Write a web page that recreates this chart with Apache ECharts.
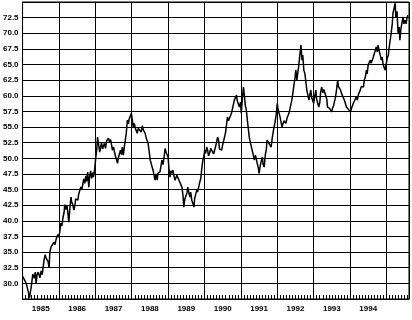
<!DOCTYPE html>
<html>
<head>
<meta charset="utf-8">
<script src="https://cdn.jsdelivr.net/npm/echarts@6/dist/echarts.min.js"></script>
<style>html,body{margin:0;padding:0;background:#fff}#c{width:412px;height:320px}</style>
</head>
<body>
<div id="c"></div>
<script>
// Decimal-year dates and price values
var dates = [
1985.00,1985.05,1985.10,1985.16,1985.19,1985.24,1985.28,1985.32,1985.35,1985.37,1985.40,1985.43,1985.48,1985.51,1985.54,1985.59,1985.62,1985.65,1985.70,1985.73,1985.75,1985.78,1985.81,1985.86,1985.89,1985.92,1985.97,
1986.00,1986.03,1986.05,1986.08,1986.11,1986.14,1986.16,1986.19,1986.22,1986.25,1986.27,1986.30,1986.33,1986.35,1986.38,1986.41,1986.44,1986.46,1986.52,1986.54,1986.60,1986.63,1986.68,1986.71,1986.74,1986.76,1986.79,1986.82,1986.84,1986.87,1986.90,1986.93,1986.95,1986.98,
1987.01,1987.04,1987.06,1987.09,1987.12,1987.14,1987.17,1987.20,1987.23,1987.25,1987.28,1987.31,1987.36,1987.39,1987.42,1987.47,1987.50,1987.55,1987.61,1987.63,1987.69,1987.72,1987.74,1987.77,1987.80,1987.85,1987.88,1987.91,1987.93,1987.99,
1988.02,1988.04,1988.07,1988.10,1988.15,1988.18,1988.23,1988.26,1988.29,1988.32,1988.37,1988.40,1988.43,1988.45,1988.51,1988.56,1988.59,1988.64,1988.67,1988.70,1988.72,1988.78,1988.83,1988.86,1988.92,1988.94,1988.97,
1989.00,1989.02,1989.05,1989.08,1989.11,1989.13,1989.16,1989.19,1989.24,1989.27,1989.32,1989.38,1989.41,1989.43,1989.46,1989.49,1989.52,1989.54,1989.57,1989.60,1989.62,1989.65,1989.68,1989.71,1989.73,1989.79,1989.81,1989.87,1989.90,1989.92,1989.95,1989.98,
1990.01,1990.03,1990.06,1990.09,1990.11,1990.14,1990.17,1990.22,1990.25,1990.31,1990.36,1990.39,1990.41,1990.47,1990.50,1990.55,1990.58,1990.63,1990.66,1990.69,1990.74,1990.77,1990.82,1990.85,1990.88,1990.90,1990.96,1990.99,
1991.01,1991.04,1991.07,1991.10,1991.12,1991.15,1991.18,1991.23,1991.26,1991.31,1991.34,1991.37,1991.40,1991.42,1991.45,1991.48,1991.50,1991.53,1991.56,1991.59,1991.61,1991.64,1991.67,1991.70,1991.72,1991.78,1991.83,1991.86,1991.91,1991.94,1991.97,
1992.00,1992.02,1992.05,1992.08,1992.13,1992.16,1992.19,1992.24,1992.27,1992.32,1992.35,1992.40,1992.43,1992.46,1992.49,1992.51,1992.54,1992.57,1992.59,1992.62,1992.65,1992.68,1992.70,1992.73,1992.76,1992.79,1992.81,1992.87,1992.89,1992.92,1992.95,
1993.00,1993.03,1993.06,1993.08,1993.14,1993.17,1993.19,1993.22,1993.25,1993.28,1993.33,1993.36,1993.38,1993.44,1993.49,1993.52,1993.55,1993.60,1993.63,1993.66,1993.68,1993.71,1993.74,1993.77,1993.82,1993.85,1993.87,1993.90,1993.96,
1994.01,1994.04,1994.09,1994.12,1994.17,1994.20,1994.23,1994.28,1994.31,1994.37,1994.39,1994.42,1994.45,1994.47,1994.50,1994.56,1994.58,1994.64,1994.67,1994.69,1994.72,1994.75,1994.77,1994.80,1994.83,1994.86,1994.88,1994.91,1994.94,1994.97,1994.99,
1995.02,1995.05,1995.07,1995.10,1995.13,1995.16,1995.18,1995.21,1995.24,1995.26,1995.29,1995.32,1995.35,1995.37,1995.40,1995.43,1995.46,1995.48,1995.51,1995.54,1995.56,1995.59
];
var values = [
31.1,30.6,30.0,28.6,27.7,29.5,31.5,30.8,31.8,29.9,31.4,31.8,30.9,32.0,31.4,33.7,34.6,34.0,33.5,32.5,35.0,35.8,35.6,36.6,36.2,37.0,37.8,
37.4,38.6,39.6,39.2,40.5,41.3,42.6,41.8,42.5,41.0,39.8,42.0,43.8,43.0,42.6,41.7,42.5,43.5,43.3,44.2,45.4,45.0,46.7,46.0,47.2,46.3,47.8,45.4,46.9,48.0,46.8,47.7,47.0,48.2,
50.0,51.5,53.4,52.2,51.0,51.3,52.5,51.5,51.8,52.4,51.6,52.8,53.2,52.6,53.0,51.3,51.8,50.4,49.2,50.0,51.3,50.6,51.8,50.5,52.0,54.0,56.1,55.5,56.3,57.2,
56.0,55.0,55.6,54.8,54.0,54.8,55.0,54.2,55.2,54.5,54.0,53.2,53.4,52.4,49.7,48.6,48.0,46.5,47.5,46.5,47.6,47.9,49.7,49.0,51.6,51.0,51.2,
50.2,48.5,47.0,48.0,47.6,48.1,47.2,46.5,47.3,47.0,46.2,45.4,44.0,42.2,43.5,44.0,44.5,45.4,44.5,43.8,44.6,43.3,42.8,42.2,43.6,45.0,44.6,46.2,46.8,48.1,49.5,50.3,
51.3,50.8,51.8,51.2,50.4,50.8,51.6,51.3,50.7,52.0,53.4,52.8,51.5,51.3,52.2,53.4,54.2,56.6,56.0,56.3,57.2,58.0,59.3,59.0,60.1,59.2,58.2,59.0,
57.2,59.5,61.4,59.8,58.5,57.7,56.0,53.4,52.5,51.3,50.5,49.7,50.5,50.0,49.2,48.4,47.6,48.8,49.6,50.2,49.0,48.6,50.5,51.5,52.9,52.3,51.8,53.2,55.0,55.8,57.0,
58.8,57.8,57.2,56.5,55.0,55.6,56.0,55.6,56.5,57.2,58.0,59.3,60.5,61.8,63.0,64.1,62.5,64.0,64.8,66.5,68.1,65.7,66.5,64.1,63.5,62.0,61.0,59.3,60.0,60.9,59.6,
58.8,60.0,60.9,59.5,58.2,59.0,60.5,61.4,60.5,61.0,60.9,59.5,58.2,58.0,57.4,58.0,58.5,59.8,61.0,62.5,61.5,61.8,60.9,60.3,60.0,59.2,58.8,58.2,57.8,
57.4,58.0,58.8,58.5,59.8,59.3,60.2,60.9,61.5,61.4,62.5,63.0,64.1,63.5,65.0,65.7,65.2,66.2,66.8,66.5,67.8,67.0,68.1,67.2,66.5,65.7,66.2,65.0,64.5,64.1,65.0,
66.0,66.5,67.5,68.8,70.0,71.5,73.2,74.0,74.8,72.6,73.5,70.0,71.0,68.9,70.8,71.8,72.6,71.5,72.1,71.5,72.3,72.9
];
var xMin = 1985, xMax = 1995.62;
var yMin = 27.5, yMax = 75, yStep = 2.5;

var seriesData = dates.map(function (d, i) { return [d, values[i]]; });

var chart = echarts.init(document.getElementById('c'), null, {renderer: 'canvas'});
var lbl = {color: '#000', fontFamily: 'Liberation Sans, Arial, sans-serif', fontWeight: 'bold', fontSize: 8};
chart.setOption({
  animation: false,
  backgroundColor: '#fff',
  grid: {left: 21, right: 1, top: 2, bottom: 21, show: true, borderColor: '#000', borderWidth: 1},
  xAxis: [{
    type: 'value', min: xMin, max: xMax, interval: 1, position: 'bottom',
    axisLine: {show: true, lineStyle: {color: '#000', width: 1}},
    axisTick: {show: true, inside: true, length: 5, lineStyle: {color: '#000'}},
    minorTick: {show: true, splitNumber: 12, length: 4, lineStyle: {color: '#000'}},
    splitLine: {show: true, lineStyle: {color: '#000', width: 1}},
    axisLabel: {show: false}
  }, {
    type: 'value', min: xMin, max: xMax, interval: 0.5, position: 'bottom',
    axisLine: {show: false}, axisTick: {show: false}, splitLine: {show: false},
    axisLabel: Object.assign({}, lbl, {margin: 6, formatter: function (v) {
      var f = v - Math.floor(v);
      return (Math.abs(f - 0.5) < 0.01 && v < 1995) ? String(Math.floor(v)) : '';
    }})
  }],
  yAxis: {
    type: 'value', min: yMin, max: yMax, interval: yStep,
    axisLine: {show: true, lineStyle: {color: '#000'}},
    axisTick: {show: false},
    splitLine: {show: true, lineStyle: {color: '#000', width: 1}},
    axisLabel: Object.assign({}, lbl, {margin: 4, formatter: function (v) {
      if (v <= yMin + 0.01 || v >= yMax - 0.01) return '';
      return v.toFixed(1);
    }})
  },
  series: [{
    type: 'line', xAxisIndex: 0, data: seriesData, showSymbol: false, symbol: 'none',
    lineStyle: {color: '#000', width: 1.5}
  }]
});
</script>
</body>
</html>
